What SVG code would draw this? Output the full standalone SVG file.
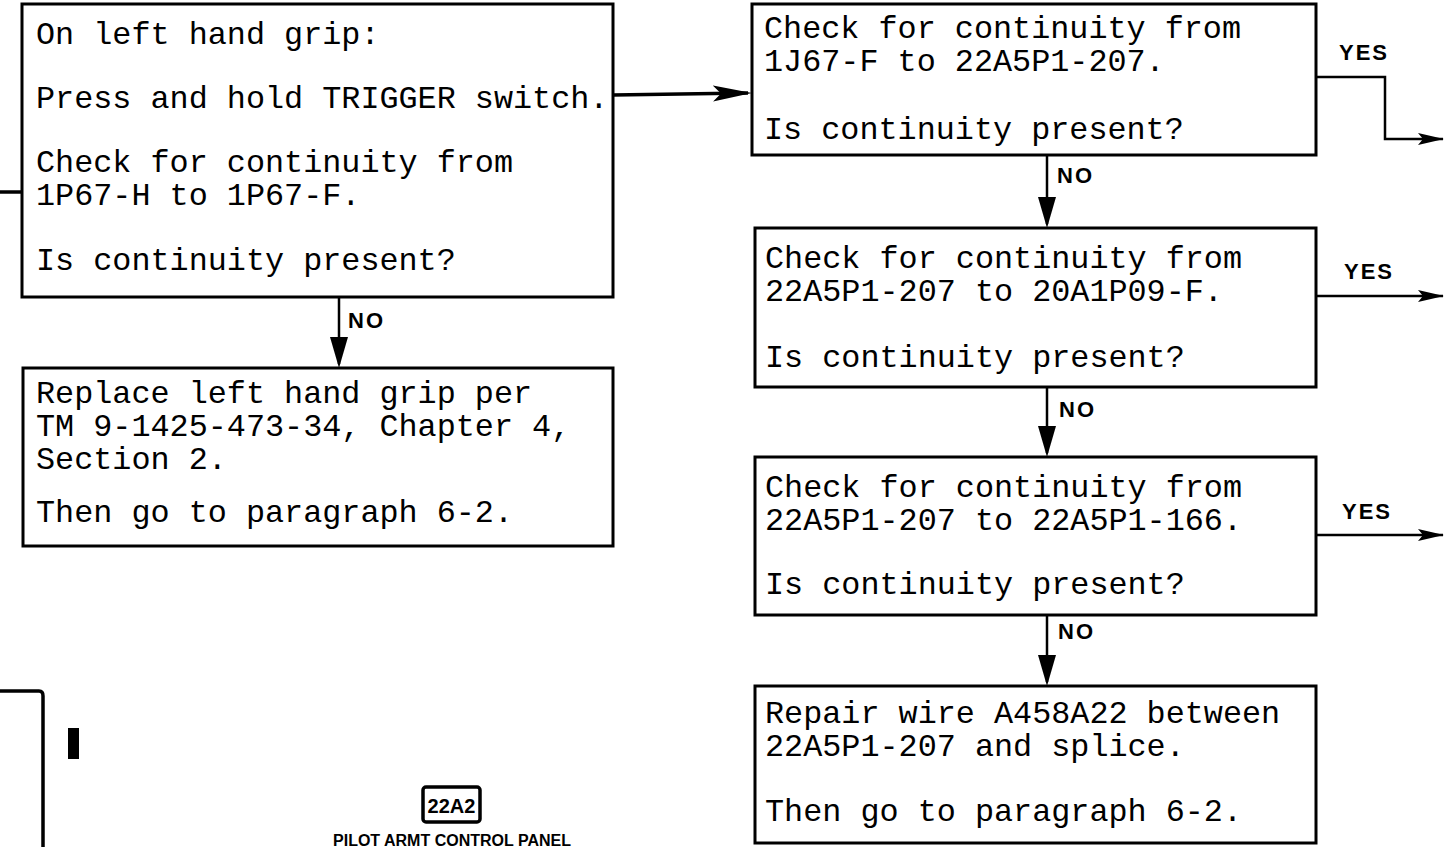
<svg xmlns="http://www.w3.org/2000/svg" width="1444" height="847" viewBox="0 0 1444 847">
  <style>
    .box { fill: #ffffff; stroke: #000000; stroke-width: 3; }
    .t { font-family: "Liberation Mono", "DejaVu Sans Mono", monospace; font-size: 31.8px; fill: #000000; }
    .lbl { font-family: "Liberation Sans", Arial, sans-serif; font-weight: bold; font-size: 22px; letter-spacing: 2px; fill: #000000; }
    .conn { fill: none; stroke: #000000; stroke-width: 2.5; }
    .thick { fill: none; stroke: #000000; stroke-width: 3.5; }
  </style>
  <defs>
    <marker id="arrowDown" markerUnits="userSpaceOnUse" markerWidth="32" markerHeight="20" viewBox="0 0 32 20" refX="27" refY="10" orient="auto">
      <path d="M0,1 L31,10 L0,19 Z" fill="#000000"/>
    </marker>
    <marker id="arrowBig" markerUnits="userSpaceOnUse" markerWidth="40" markerHeight="20" viewBox="0 0 40 20" refX="35" refY="10" orient="auto">
      <path d="M0,2 L39,10 L0,18 L8,10 Z" fill="#000000"/>
    </marker>
    <marker id="arrowSmall" markerUnits="userSpaceOnUse" markerWidth="26" markerHeight="14" viewBox="0 0 26 14" refX="25" refY="7" orient="auto">
      <path d="M0,1 L26,7 L0,13 L5,7 Z" fill="#000000"/>
    </marker>
  </defs>
  <rect x="0" y="0" width="1444" height="847" fill="#ffffff"/>

  <g id="connectors">
    <line class="thick" x1="0" y1="192" x2="22" y2="192"/>
    <line class="thick" x1="613" y1="95" x2="748" y2="93" marker-end="url(#arrowBig)"/>
    <line class="conn" x1="339" y1="297" x2="339" y2="364" marker-end="url(#arrowDown)"/>
    <text class="lbl" x="348" y="328">NO</text>
    <line class="conn" x1="1047" y1="155" x2="1047" y2="224" marker-end="url(#arrowDown)"/>
    <text class="lbl" x="1057" y="183">NO</text>
    <line class="conn" x1="1047" y1="387" x2="1047" y2="453" marker-end="url(#arrowDown)"/>
    <text class="lbl" x="1059" y="417">NO</text>
    <line class="conn" x1="1047" y1="615" x2="1047" y2="682" marker-end="url(#arrowDown)"/>
    <text class="lbl" x="1058" y="639">NO</text>
    <path class="conn" d="M1316,77 H1385 V139 H1443" marker-end="url(#arrowSmall)"/>
    <text class="lbl" x="1339" y="60">YES</text>
    <line class="conn" x1="1316" y1="296" x2="1443" y2="296" marker-end="url(#arrowSmall)"/>
    <text class="lbl" x="1344" y="279">YES</text>
    <line class="conn" x1="1316" y1="535" x2="1443" y2="535" marker-end="url(#arrowSmall)"/>
    <text class="lbl" x="1342" y="519">YES</text>
  </g>

  <g id="node-grip">
    <rect class="box" x="22" y="4" width="591" height="293"/>
    <text class="t" x="36" y="44">On left hand grip:</text>
    <text class="t" x="36" y="108">Press and hold TRIGGER switch.</text>
    <text class="t" x="36" y="172">Check for continuity from</text>
    <text class="t" x="36" y="205">1P67-H to 1P67-F.</text>
    <text class="t" x="36" y="270">Is continuity present?</text>
  </g>

  <g id="node-replace-grip">
    <rect class="box" x="23" y="368" width="590" height="178"/>
    <text class="t" x="36" y="403">Replace left hand grip per</text>
    <text class="t" x="36" y="436">TM 9-1425-473-34, Chapter 4,</text>
    <text class="t" x="36" y="469">Section 2.</text>
    <text class="t" x="36" y="522">Then go to paragraph 6-2.</text>
  </g>

  <g id="node-check-1j67">
    <rect class="box" x="752" y="4" width="564" height="151"/>
    <text class="t" x="764" y="38">Check for continuity from</text>
    <text class="t" x="764" y="71">1J67-F to 22A5P1-207.</text>
    <text class="t" x="764" y="139">Is continuity present?</text>
  </g>

  <g id="node-check-20a1">
    <rect class="box" x="755" y="228" width="561" height="159"/>
    <text class="t" x="765" y="268">Check for continuity from</text>
    <text class="t" x="765" y="301">22A5P1-207 to 20A1P09-F.</text>
    <text class="t" x="765" y="367">Is continuity present?</text>
  </g>

  <g id="node-check-166">
    <rect class="box" x="755" y="457" width="561" height="158"/>
    <text class="t" x="765" y="497">Check for continuity from</text>
    <text class="t" x="765" y="530">22A5P1-207 to 22A5P1-166.</text>
    <text class="t" x="765" y="594">Is continuity present?</text>
  </g>

  <g id="node-repair">
    <rect class="box" x="755" y="686" width="561" height="157"/>
    <text class="t" x="765" y="723">Repair wire A458A22 between</text>
    <text class="t" x="765" y="756">22A5P1-207 and splice.</text>
    <text class="t" x="765" y="821">Then go to paragraph 6-2.</text>
  </g>

  <g id="panel-fragment">
    <path d="M0,691 H39 Q43,691 43,696 V847" fill="none" stroke="#000000" stroke-width="3.5"/>
    <rect x="68" y="728" width="11" height="31" fill="#000000"/>
    <rect x="423" y="787" width="57" height="35" rx="3" fill="none" stroke="#000000" stroke-width="3.5"/>
    <text x="451.5" y="813" text-anchor="middle" font-family="Liberation Sans, Arial, sans-serif" font-weight="bold" font-size="20" fill="#000000">22A2</text>
    <text x="452" y="846" text-anchor="middle" font-family="Liberation Sans, Arial, sans-serif" font-weight="bold" font-size="16" fill="#000000">PILOT ARMT CONTROL PANEL</text>
  </g>
</svg>
